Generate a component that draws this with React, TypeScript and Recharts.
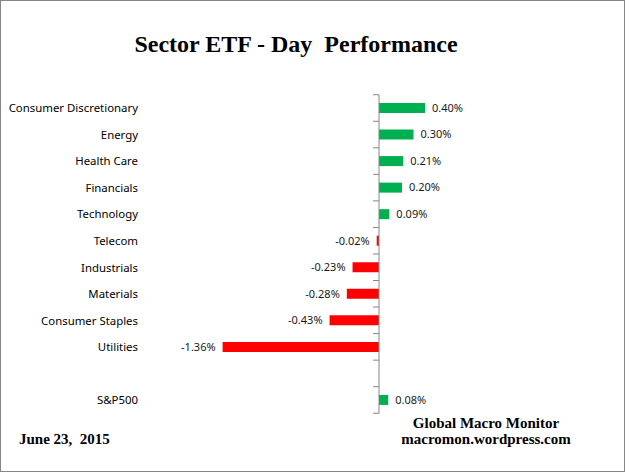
import React from 'react';
import {
  BarChart,
  Bar,
  XAxis,
  YAxis,
  Cell,
  LabelList,
  ReferenceLine,
} from 'recharts';

const sectors = [
  'Consumer Discretionary',
  'Energy',
  'Health Care',
  'Financials',
  'Technology',
  'Telecom',
  'Industrials',
  'Materials',
  'Consumer Staples',
  'Utilities',
  '',
  'S&P500',
];
const dayChange = [0.4, 0.3, 0.21, 0.2, 0.09, -0.02, -0.23, -0.28, -0.43, -1.36, null, 0.08];

const W = 625;
const H = 472;
const MARGIN = { top: 95, right: 131, bottom: 58.5, left: 0 };
const DOMAIN: [number, number] = [-2, 1];
const AXIS_GRAY = '#868686';
const FONT = '"Noto Sans", sans-serif';
const SERIF = '"Liberation Serif", serif';

const data = sectors.map((name, i) => ({ name, value: dayChange[i] }));

// draws the category tick marks on the zero axis (only once, from the first band)
const AxisTicks = (props: any) => {
  const { x, y, width, height, index } = props;
  if (index !== 0) return <g />;
  const band = (H - MARGIN.top - MARGIN.bottom) / sectors.length;
  const zeroX = x + (width * (0 - DOMAIN[0])) / (DOMAIN[1] - DOMAIN[0]);
  const top = y + height / 2 - band / 2;
  return (
    <g>
      {Array.from({ length: sectors.length + 1 }, (_, k) => (
        <line
          key={k}
          x1={zeroX - 6}
          x2={zeroX}
          y1={top + k * band}
          y2={top + k * band}
          stroke={AXIS_GRAY}
          strokeWidth={1}
        />
      ))}
    </g>
  );
};

const CategoryTick = (props: any) => {
  const { x, y, payload } = props;
  return (
    <text
      x={x}
      y={y}
      dy="0.35em"
      textAnchor="end"
      fontSize={11.4}
      fontFamily={FONT}
      fill="#000"
    >
      {payload.value}
    </text>
  );
};

const ValueLabel = (props: any) => {
  const { x, y, width, height, value } = props;
  if (value === null || value === undefined) return null;
  const left = Math.min(x, x + width);
  const right = Math.max(x, x + width);
  const pos = value >= 0;
  return (
    <text
      x={pos ? right + 7 : left - 7}
      y={y + height / 2}
      dy="0.35em"
      textAnchor={pos ? 'start' : 'end'}
      fontSize={11}
      fontFamily={FONT}
      fill="#1a1a1a"
    >
      {value.toFixed(2)}%
    </text>
  );
};

export default function App() {
  return (
    <div
      style={{
        position: 'absolute',
        left: 0,
        top: 0,
        width: W,
        height: H,
        background: '#fff',
      }}
    >
      <BarChart width={W} height={H} data={data} layout="vertical" margin={MARGIN}>
        <XAxis type="number" domain={DOMAIN} hide />
        <YAxis
          type="category"
          dataKey="name"
          width={149}
          axisLine={false}
          tickLine={false}
          tickSize={0}
          tickMargin={11}
          interval={0}
          tick={CategoryTick}
        />
        <ReferenceLine x={0} stroke={AXIS_GRAY} strokeWidth={1} />
        <Bar
          dataKey="value"
          barSize={10}
          isAnimationActive={false}
          background={(p: any) => <AxisTicks {...p} />}
        >
          {data.map((d, i) => (
            <Cell key={i} fill={d.value !== null && d.value < 0 ? '#FF0000' : '#00B050'} />
          ))}
          <LabelList dataKey="value" content={ValueLabel} />
        </Bar>
      </BarChart>
      <div
        style={{
          position: 'absolute',
          left: 0,
          top: 31,
          width: 592,
          textAlign: 'center',
          fontFamily: SERIF,
          fontWeight: 'bold',
          fontSize: 24,
          lineHeight: '26px',
          whiteSpace: 'pre',
        }}
      >
        {'Sector ETF - Day  Performance'}
      </div>
      <div
        style={{
          position: 'absolute',
          left: 386,
          top: 415,
          width: 200,
          textAlign: 'center',
          fontFamily: SERIF,
          fontWeight: 'bold',
          fontSize: 15,
          lineHeight: '16px',
        }}
      >
        <div>Global Macro Monitor</div>
        <div>macromon.wordpress.com</div>
      </div>
      <div
        style={{
          position: 'absolute',
          left: 19,
          top: 431,
          fontFamily: SERIF,
          fontWeight: 'bold',
          fontSize: 15,
          lineHeight: '16px',
          whiteSpace: 'pre',
        }}
      >
        {'June 23,  2015'}
      </div>
      <div
        style={{
          position: 'absolute',
          left: 0,
          top: 0,
          width: W,
          height: H,
          boxSizing: 'border-box',
          border: '1px solid #868686',
          pointerEvents: 'none',
        }}
      />
    </div>
  );
}
